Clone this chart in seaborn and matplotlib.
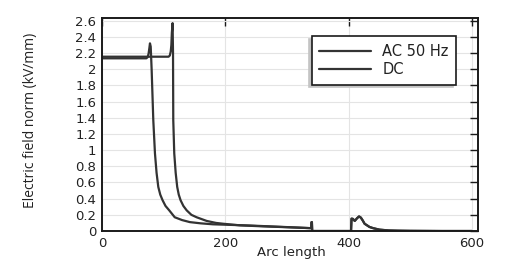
import numpy as np
import pandas as pd
import matplotlib
matplotlib.use("Agg")
import matplotlib.pyplot as plt
from matplotlib.ticker import FuncFormatter, MultipleLocator
import seaborn as sns

ac_x = [0, 72, 74, 75.5, 76.8, 77.8, 79, 80.5, 82, 83.2, 85.9, 88.5, 91.3, 94.5, 98.3,
        103, 109, 118, 130, 142.6, 160, 180, 200, 240, 280, 320, 339.5]
ac_y = [2.135, 2.135, 2.15, 2.19, 2.26, 2.32, 2.28, 2.0, 1.65, 1.37, 0.96, 0.72, 0.545, 0.45, 0.38,
        0.31, 0.256, 0.17, 0.135, 0.11, 0.095, 0.083, 0.078, 0.068, 0.055, 0.042, 0.035]

dc_x = [0, 108, 110, 111.5, 112.5, 113.3, 114.5, 115.2, 115.6, 117.2, 119.5, 122, 124.5, 127.5,
        132, 137.3, 145, 153.5, 169.7, 185, 196.6, 223.7, 260, 300, 339.5]
dc_y = [2.155, 2.155, 2.17, 2.22, 2.3, 2.45, 2.57, 2.2, 1.37, 0.96, 0.72, 0.545, 0.45, 0.38,
        0.31, 0.256, 0.2, 0.17, 0.125, 0.1, 0.09, 0.07, 0.058, 0.047, 0.035]

# Common part of both curves beyond the first insulator edge
tail_x = [340, 340.5, 341, 370, 404, 404.8, 407, 410, 414, 417, 420, 423, 426, 430, 434,
          440, 450, 465, 480, 500, 550, 600]
tail_y = [0.11, 0.11, 0.0, 0.0, 0.0, 0.153, 0.15, 0.125, 0.16, 0.18, 0.165, 0.13, 0.09, 0.07, 0.05,
          0.035, 0.017, 0.007, 0.004, 0.002, 0.0, 0.0]

series_names = ["AC 50 Hz", "DC"]

df = pd.concat([
    pd.DataFrame({"x": ac_x + tail_x, "y": ac_y + tail_y, "series": series_names[0]}),
    pd.DataFrame({"x": dc_x + tail_x, "y": dc_y + tail_y, "series": series_names[1]}),
], ignore_index=True)

sns.set_theme(style="white")
plt.rcParams["font.family"] = ["DejaVu Sans"]

fig = plt.figure(figsize=(5.06, 2.77), dpi=100)
ax = fig.add_axes([0.2016, 0.166, 0.7431, 0.768])

line_col = "#333333"
sns.lineplot(data=df, x="x", y="y", hue="series", units="series", estimator=None,
             sort=False, palette=[line_col, line_col], linewidth=1.6, ax=ax)

ax.set_xlim(0, 610)
ax.set_ylim(0, 2.63)
ax.xaxis.set_major_locator(MultipleLocator(200))
ax.yaxis.set_major_locator(MultipleLocator(0.2))
ax.yaxis.set_major_formatter(FuncFormatter(lambda v, p: "%g" % round(v, 2)))

ax.grid(True, color="#e4e4e4", linewidth=0.8)
for s in ax.spines.values():
    s.set_visible(True)
    s.set_color("#1a1a1a")
    s.set_linewidth(1.4)

ax.tick_params(direction="in", top=True, right=True, length=6, width=1,
               color="#1a1a1a", labelsize=9.5, labelcolor="#222222", pad=4)

ax.set_xlabel("Arc length", fontsize=9.5, color="#222222")
ax.xaxis.set_label_coords(0.503, -0.07)
ax.set_ylabel("Electric field norm (kV/mm)", fontsize=10, color="#222222",
              family=["Open Sans", "DejaVu Sans"])
ax.yaxis.set_label_coords(-0.17, 0.52)

handles, labels = ax.get_legend_handles_labels()
leg = ax.legend(handles, labels, loc="upper right", bbox_to_anchor=(0.941, 0.915),
                borderaxespad=0, fontsize=10.5, frameon=True, fancybox=False,
                handlelength=3.5, handletextpad=0.8, borderpad=0.5, labelspacing=0.25,
                shadow={"ox": -2.2, "oy": -2.0, "color": "#c4c4c4", "alpha": 1})
leg.get_frame().set_edgecolor("#1a1a1a")
leg.get_frame().set_linewidth(1.2)
for t in leg.get_texts():
    t.set_color("#222222")

fig.savefig("out.png", dpi=100)
